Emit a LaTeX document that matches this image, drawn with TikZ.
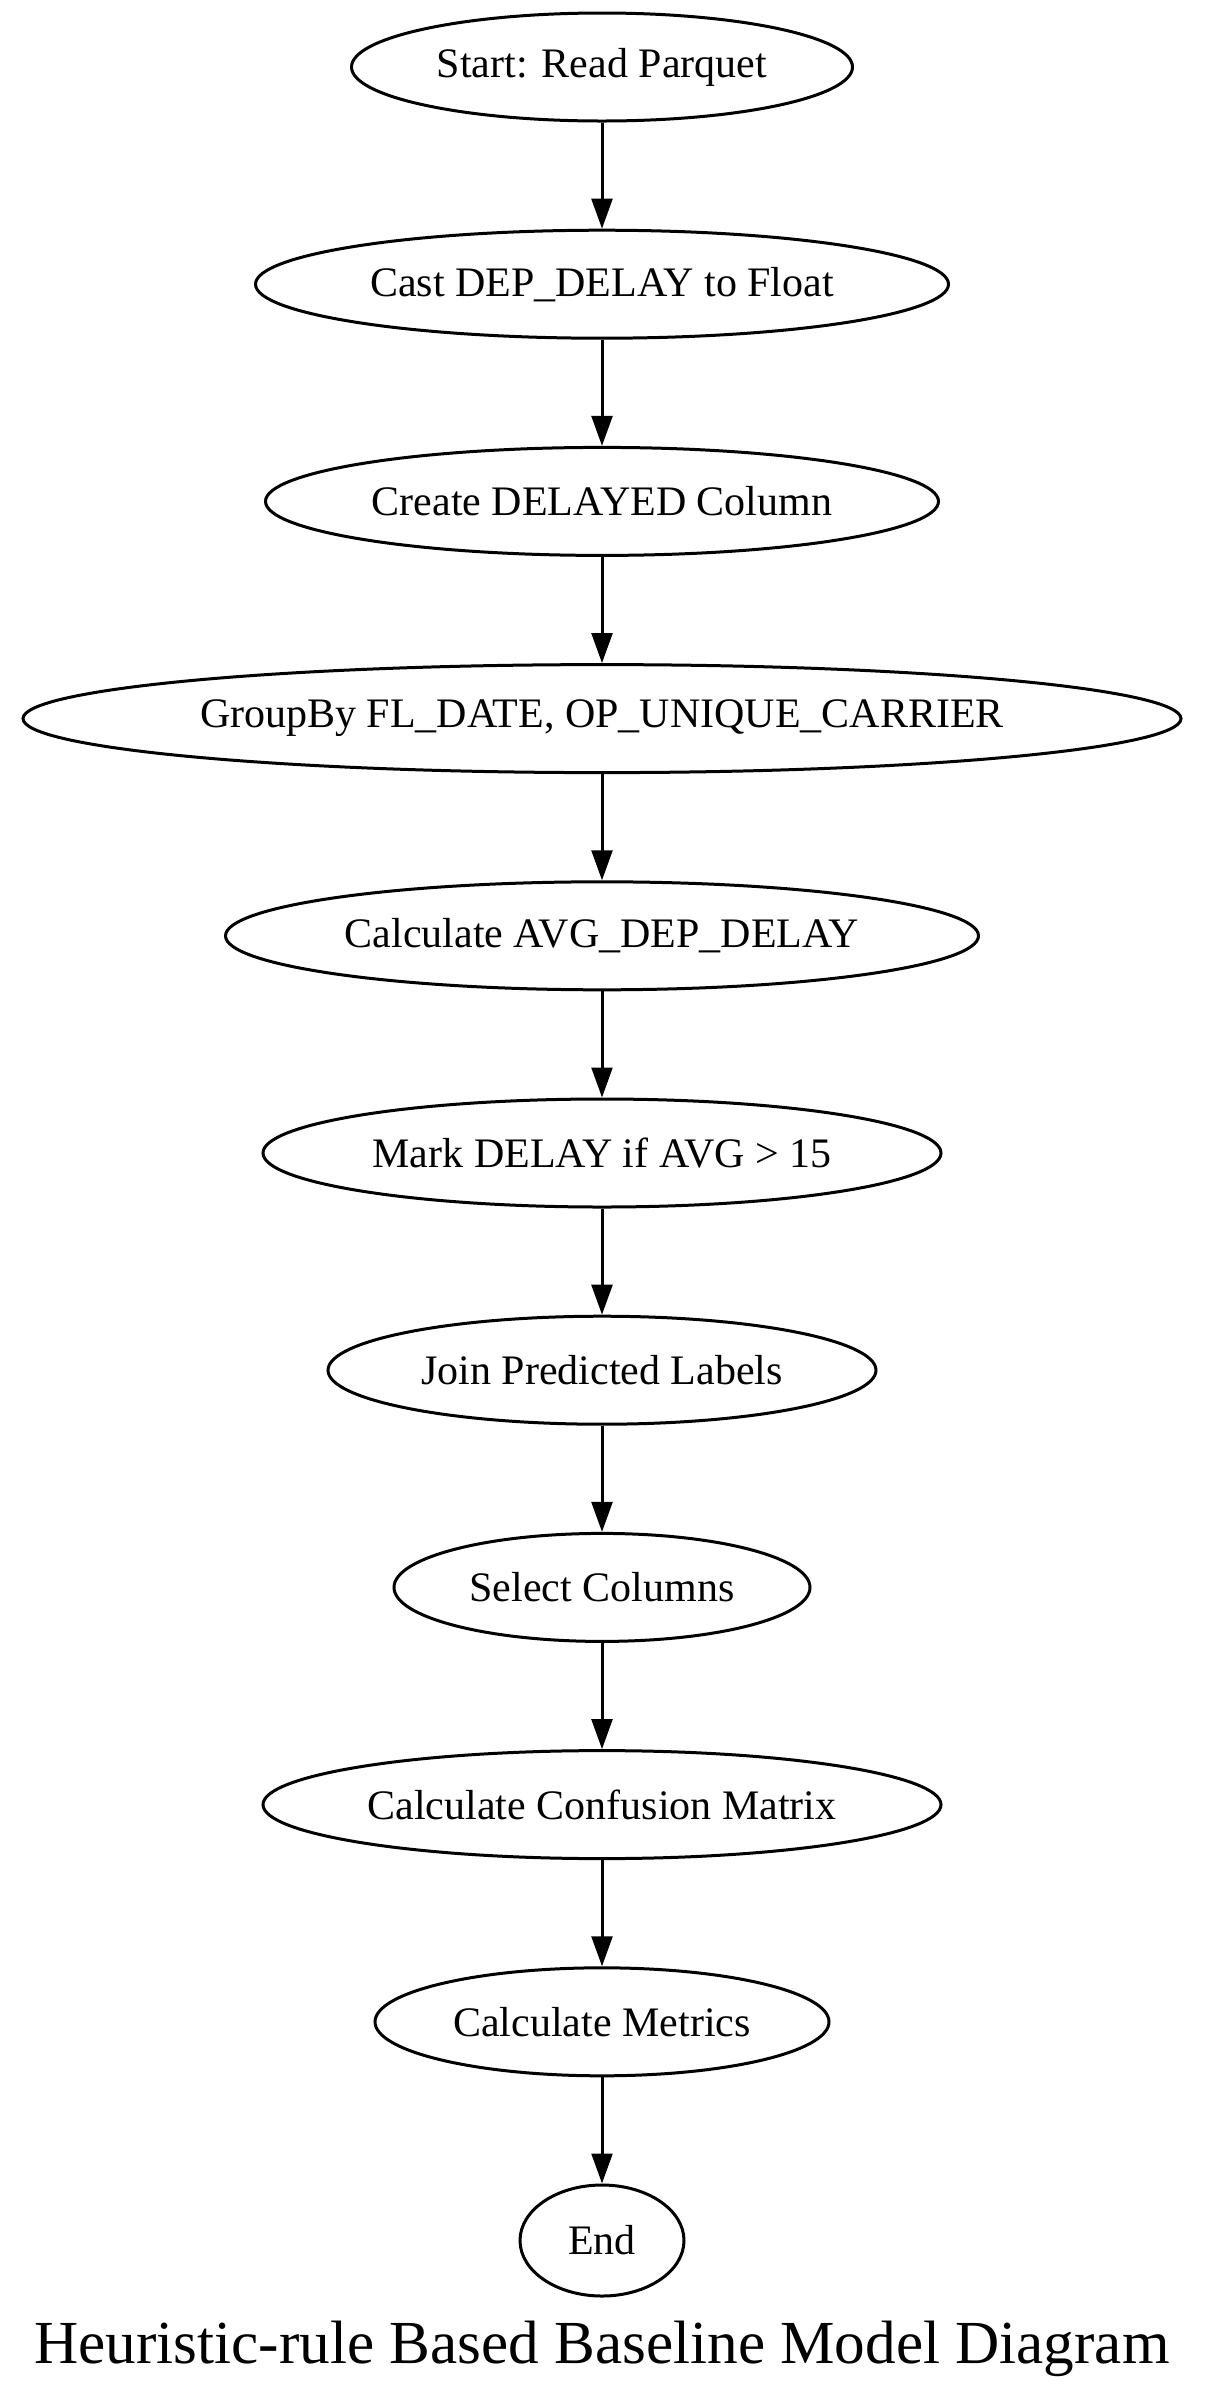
\documentclass[tikz,border=0pt]{standalone}
\usepackage{fontspec}
\setmainfont{Liberation Serif}
\usetikzlibrary{shapes.geometric, arrows.meta, positioning}

\begin{document}
\begin{tikzpicture}[
        node distance=26.55pt,
        stage/.style={draw, ellipse, line width=0.75pt, minimum height=27pt, inner sep=0pt, font=\fontsize{10.5}{12}\selectfont},
        flow/.style={-{Triangle[length=7.5pt, width=5.2pt]}, line width=0.75pt}
    ]
        \useasboundingbox (0,0) rectangle (301pt,-600pt);

        % Pipeline steps
        \node[stage, minimum width=125.25pt] (read) at (150.5pt,-16.75pt) {Start: Read Parquet};
        \node[stage, minimum width=173.25pt, below=of read] (cast) {Cast DEP\_DELAY to Float};
        \node[stage, minimum width=168.25pt, below=of cast] (create) {Create DELAYED Column};
        \node[stage, minimum width=289.5pt, below=of create] (group) {GroupBy FL\_DATE, OP\_UNIQUE\_CARRIER};
        \node[stage, minimum width=188.25pt, below=of group] (avg) {Calculate AVG\_DEP\_DELAY};
        \node[stage, minimum width=169.5pt, below=of avg] (mark) {Mark DELAY if AVG > 15};
        \node[stage, minimum width=137pt, below=of mark] (join) {Join Predicted Labels};
        \node[stage, minimum width=104pt, below=of join] (select) {Select Columns};
        \node[stage, minimum width=169.5pt, below=of select] (confusion) {Calculate Confusion Matrix};
        \node[stage, minimum width=113.5pt, below=of confusion] (metrics) {Calculate Metrics};
        \node[stage, minimum width=41pt, minimum height=27.75pt, below=of metrics] (end) {End};

        % Connectors
        \foreach \a/\b in {read/cast, cast/create, create/group, group/avg, avg/mark, mark/join, join/select, select/confusion, confusion/metrics, metrics/end} {
            \draw[flow] (\a) -- (\b);
        }

        % Title
        \node[font=\fontsize{15.3}{18}\selectfont, anchor=base] (title) at (150.5pt,-590.75pt) {Heuristic-rule Based Baseline Model Diagram};

    \end{tikzpicture}
\end{document}
